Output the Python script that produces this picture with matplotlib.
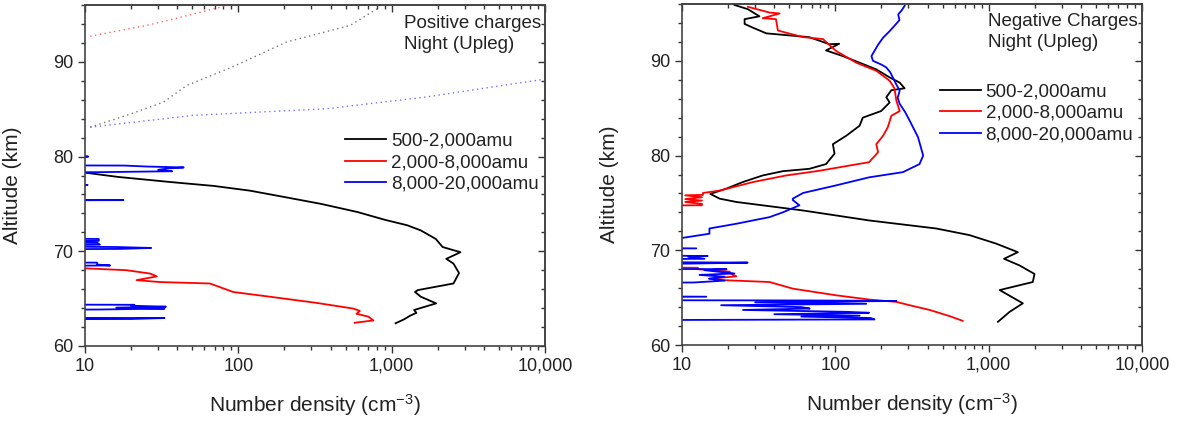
import matplotlib
matplotlib.use("Agg")
import matplotlib.pyplot as plt
from matplotlib.ticker import FuncFormatter, LogLocator, NullFormatter, MultipleLocator

plt.rcParams['font.family'] = ['Liberation Sans', 'DejaVu Sans']
plt.rcParams['mathtext.fontset'] = 'custom'
plt.rcParams['mathtext.rm'] = 'Liberation Sans'
plt.rcParams['mathtext.it'] = 'Liberation Sans'

# ── Positive charges, night upleg ─────────────────────
pos_black_alt = [78.3, 77.85, 77.3, 76.9, 76.4, 75.7, 75.0, 74.15, 73.3, 72.75, 72.2,
                 71.3, 70.45, 69.9, 69.2, 68.7, 67.7, 66.6, 65.9, 65.7, 65.2, 64.5,
                 63.8, 63.5, 63.2, 62.8, 62.4]
pos_black_val = [10, 16.4, 36.6, 69, 119, 204, 347, 596, 914, 1260, 1550,
                 1940, 2150, 2810, 2270, 2530, 2750, 2530, 1480, 1420, 1550, 1950,
                 1400, 1450, 1320, 1200, 1060]

pos_red_alt = [68.2, 68.0, 67.65, 67.35, 66.95, 66.75, 66.6, 65.7, 65.2, 64.55, 63.95,
               63.7, 63.4, 63.1, 62.7, 62.45]
pos_red_val = [10, 18.7, 26.5, 29.4, 21.7, 30.9, 65.3, 92.7, 161, 324, 562,
               620, 590, 705, 760, 574]

pos_blue_alt = [80.1, 80.0, 79.95, 79.1, 79.05, 78.95, 78.85, 78.75, 78.6, 78.45, 78.35, 78.3,
                77.05, 77.0, 76.95, 75.5, 75.4, 75.35,
                71.4, 71.3, 71.1, 71.0, 70.9, 70.7, 70.6, 70.45, 70.35, 70.25, 70.15,
                68.9, 68.8, 68.6, 68.5, 68.4,
                64.4, 64.35, 64.25, 64.15, 64.05, 63.95, 63.85, 63.8,
                63.0, 62.95, 62.85, 62.8]
pos_blue_val = [1, 10.5, 1, 1, 18, 25, 44, 35, 30, 37, 12, 1,
                1, 10.4, 1, 1, 17.8, 1,
                1, 12.3, 12.3, 1, 12, 12.5, 1, 16, 27, 17, 1,
                1, 12, 12, 14.6, 1,
                1, 21, 20, 33.7, 16, 33, 12, 1,
                1, 33, 20, 1]

# dotted traces above 83 km
pos_black_dot_alt = [83.1, 84.35, 85.75, 87.5, 89.5, 92.1, 93.85, 95.8]
pos_black_dot_val = [10.8, 18.7, 32.5, 46, 92.7, 207, 538, 840]
pos_red_dot_alt = [92.7, 93.85, 94.6, 95.9]
pos_red_dot_val = [10.8, 25.3, 39.6, 82]
pos_blue_dot_alt = [83.1, 84.35, 85.05, 86.3, 87.35, 88.15]
pos_blue_dot_val = [10.8, 50.8, 378, 1700, 4570, 9800]

# ── Negative charges, night upleg ─────────────────────
neg_black_alt = [95.9, 95.45, 94.7, 94.4, 93.9, 93.5, 92.9, 92.5, 91.75, 91.8, 91.1,
                 90.5, 89.8, 89.1, 88.25, 87.7, 87.1, 86.9, 86.15, 85.6, 84.7, 84.0,
                 83.15, 82.1, 81.2, 80.2, 79.1, 78.6, 78.35, 77.9, 77.2, 76.5, 75.95,
                 75.45, 75.1, 74.2, 73.15, 72.3, 71.6, 70.7, 69.8, 69.1, 68.4, 67.5,
                 66.65, 65.8, 64.4, 63.5, 62.45]
neg_black_val = [22, 26.9, 32, 25.6, 25.6, 29, 35.5, 67.6, 91.6, 106, 87,
                 112, 144, 185, 226, 263, 283, 232, 215, 226, 199, 151,
                 144, 118, 96.4, 98.8, 87, 67.7, 45.4, 33.6, 24.9, 19.4, 15.3,
                 17.6, 22.6, 61.6, 166, 455, 750, 1120, 1550, 1260, 1590, 1990,
                 1940, 1180, 1670, 1370, 1150]

neg_red_alt = [95.7, 95.1, 95.0, 94.5, 94.4, 93.2, 92.5, 92.3, 91.05, 89.8, 88.95,
               87.9, 87.1, 85.8, 84.7, 84.2, 83.0, 82.1, 81.2, 80.35, 79.3, 78.95,
               78.4, 77.9, 77.2, 76.3, 76.05, 75.85, 75.8, 75.6, 75.4, 75.25, 75.1,
               74.9, 74.75, 74.7,
               68.3, 68.15, 68.0, 67.75, 67.5, 67.25, 67.0, 66.85, 66.65, 65.95,
               65.25, 64.8, 64.55, 64.2, 63.7, 63.05, 62.55]
neg_red_val = [26.9, 37.2, 43.3, 33.6, 41, 42.2, 61.6, 83, 101, 137, 185,
               226, 243, 250, 263, 232, 220, 205, 185, 190, 166, 124,
               79, 47.8, 29, 17.6, 13.7, 13.7, 10.5, 13.5, 10.5, 13.5, 10.5,
               13.5, 13.5, 1,
               1, 12.7, 12.7, 20.4, 21, 22.6, 15.1, 18.5, 37.2, 52.8,
               101, 166, 250, 305, 412, 556, 677]

neg_blue_alt = [95.8, 95.3, 94.9, 94.3, 93.7, 93.1, 92.45, 91.7, 91.05, 90.5, 90.0,
                89.6, 89.3, 88.8, 88.25, 87.5, 86.85, 86.1, 85.45, 84.6, 83.7,
                81.95, 80.0, 79.1, 78.25, 77.7, 76.85, 76.05, 75.45, 75.3, 74.75,
                74.0, 73.5, 72.8, 72.3, 71.75, 71.3, 71.2,
                70.3, 70.2, 70.1, 69.5, 69.4, 69.3, 69.1, 69.0, 68.8, 68.7, 68.6,
                68.4, 68.1, 68.0, 67.9, 67.7, 67.55, 67.4, 67.2, 67.0, 66.8, 66.6,
                66.5, 65.2, 65.1, 65.0, 64.75, 64.7, 64.65, 64.5, 64.35, 64.2,
                64.0, 63.85, 63.7, 63.5, 63.4, 63.25, 63.1, 63.0, 62.85, 62.7, 62.6]
neg_blue_val = [283, 270, 257, 262, 243, 225, 205, 190, 180, 172, 176,
                200, 215, 228, 237, 250, 263, 255, 263, 285, 305,
                346, 374, 354, 276, 166, 101, 61.6, 52.8, 52.8, 58.3,
                45.4, 37.2, 22.6, 15.1, 15.1, 10, 1,
                1, 12.4, 1, 1, 14.7, 11, 14, 1, 1, 26.8, 12,
                1, 1, 19.5, 14, 18, 22, 13, 19, 15, 19, 12,
                1, 1, 14.4, 1, 1, 70, 250, 30, 159, 18,
                60, 68, 25, 120, 166, 40, 144, 60, 170, 180, 1]

LABELS = ["500-2,000amu", "2,000-8,000amu", "8,000-20,000amu"]
FIG_W, FIG_H = 1184, 421


def style_axis(ax):
    ax.set_xscale('log')
    ax.set_xlim(10, 10000)
    ax.set_ylim(60, 96)
    ax.set_xticks([10, 100, 1000, 10000])
    ax.xaxis.set_major_formatter(FuncFormatter(lambda v, p: f"{int(round(v)):,}"))
    ax.xaxis.set_minor_locator(LogLocator(base=10, subs=range(2, 10)))
    ax.xaxis.set_minor_formatter(NullFormatter())
    ax.set_yticks([60, 70, 80, 90])
    ax.yaxis.set_minor_locator(MultipleLocator(2))
    ax.tick_params(which='both', direction='out', colors='#333333', labelsize=13,
                   labelcolor='#222222', width=1.0)
    ax.tick_params(which='major', length=5)
    ax.tick_params(which='minor', length=3)
    for s in ax.spines.values():
        s.set_color('#444444')
        s.set_linewidth(1.2)

    # mirrored inward ticks on top and right
    top = ax.secondary_xaxis('top')
    top.set_xticks([10, 100, 1000, 10000])
    top.xaxis.set_minor_locator(LogLocator(base=10, subs=range(2, 10)))
    top.xaxis.set_major_formatter(NullFormatter())
    top.xaxis.set_minor_formatter(NullFormatter())
    top.tick_params(which='both', direction='in', colors='#333333', width=1.0)
    top.tick_params(which='major', length=5)
    top.tick_params(which='minor', length=3)
    top.spines['top'].set_color('#444444')
    top.spines['top'].set_linewidth(1.2)

    right = ax.secondary_yaxis('right')
    right.set_yticks([60, 70, 80, 90])
    right.yaxis.set_minor_locator(MultipleLocator(2))
    right.yaxis.set_major_formatter(NullFormatter())
    right.tick_params(which='both', direction='in', colors='#333333', width=1.0)
    right.tick_params(which='major', length=5)
    right.tick_params(which='minor', length=3)
    right.spines['right'].set_color('#444444')
    right.spines['right'].set_linewidth(1.2)

    ax.set_xlabel(r"Number density (cm$^{-3}$)", fontsize=15, color='#222222')
    ax.set_ylabel("Altitude (km)", fontsize=15, color='#222222')
    ax.xaxis.set_label_coords(0.5, -0.135)
    ax.yaxis.set_label_coords(-0.137, 0.47)


fig = plt.figure(figsize=(FIG_W / 100, FIG_H / 100), dpi=100)
ax1 = fig.add_axes([85 / FIG_W, 1 - 346 / FIG_H, 460 / FIG_W, 341 / FIG_H])
ax2 = fig.add_axes([682 / FIG_W, 1 - 345 / FIG_H, 460 / FIG_W, 341 / FIG_H])

# left panel
lw = 1.3
dot = (0, (1, 2.5))
ax1.plot(pos_black_dot_val, pos_black_dot_alt, color='#555555', lw=1.0, ls=dot, alpha=0.8)
ax1.plot(pos_red_dot_val, pos_red_dot_alt, color='#ff4040', lw=1.0, ls=dot, alpha=0.8)
ax1.plot(pos_blue_dot_val, pos_blue_dot_alt, color='#5050ff', lw=1.0, ls=dot, alpha=0.8)
ax1.plot(pos_black_val, pos_black_alt, color='black', lw=lw, label=LABELS[0])
ax1.plot(pos_red_val, pos_red_alt, color='#ff0000', lw=lw, label=LABELS[1])
ax1.plot(pos_blue_val, pos_blue_alt, color='#0000ff', lw=lw, label=LABELS[2])
style_axis(ax1)
ax1.text(0.693, 0.947, "Positive charges", transform=ax1.transAxes, fontsize=13.5,
         ha='left', va='center', color='#222222')
ax1.text(0.693, 0.883, "Night (Upleg)", transform=ax1.transAxes, fontsize=13.5,
         ha='left', va='center', color='#222222')
ax1.legend(loc='upper left', bbox_to_anchor=(0.565, 0.625), frameon=False, fontsize=13.5,
           handlelength=2.2, handletextpad=0.25, labelspacing=0.22, borderpad=0,
           borderaxespad=0, labelcolor='#222222')

# right panel
ax2.plot(neg_black_val, neg_black_alt, color='black', lw=lw, label=LABELS[0])
ax2.plot(neg_red_val, neg_red_alt, color='#ff0000', lw=lw, label=LABELS[1])
ax2.plot(neg_blue_val, neg_blue_alt, color='#0000ff', lw=lw, label=LABELS[2])
style_axis(ax2)
ax2.text(0.665, 0.95, "Negative Charges", transform=ax2.transAxes, fontsize=13.5,
         ha='left', va='center', color='#222222')
ax2.text(0.665, 0.886, "Night (Upleg)", transform=ax2.transAxes, fontsize=13.5,
         ha='left', va='center', color='#222222')
ax2.legend(loc='upper left', bbox_to_anchor=(0.56, 0.767), frameon=False, fontsize=13.5,
           handlelength=2.2, handletextpad=0.25, labelspacing=0.22, borderpad=0,
           borderaxespad=0, labelcolor='#222222')

fig.savefig("out.png", dpi=100)
plt.close(fig)
